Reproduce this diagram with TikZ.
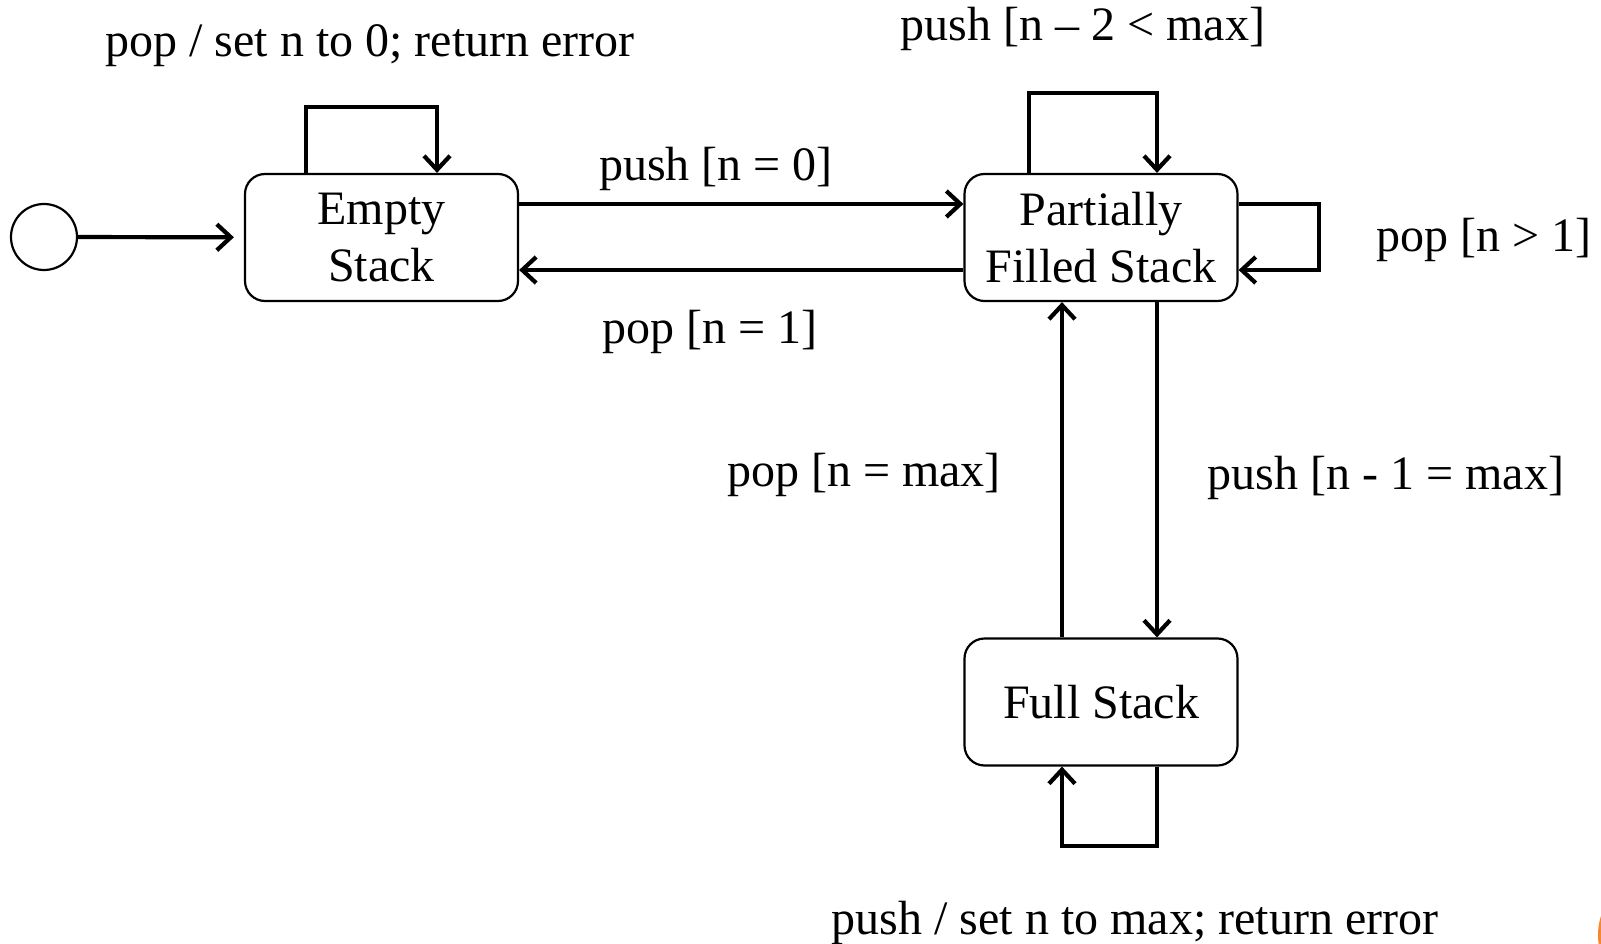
\documentclass[tikz,border=0pt]{standalone}
\usepackage{fontspec}
\setmainfont{Liberation Serif}
\usetikzlibrary{arrows.meta,positioning}
\definecolor{stkOrange}{HTML}{F5872F}
\tikzset{
  statebox/.style={rectangle,draw=black,line width=2.2pt,rounded corners=20pt,
    minimum width=273pt,minimum height=127pt,align=center,inner sep=0pt,
    font=\fontsize{48}{57}\selectfont},
  startdot/.style={circle,draw=black,line width=2.2pt,minimum size=66pt,inner sep=0pt},
  translabel/.style={inner sep=0pt,font=\fontsize{48}{57}\selectfont},
  arrow/.style={-{Straight Barb[length=14pt,width=26pt]},line width=4.2pt}
}
\begin{document}
\begin{tikzpicture}[x=1pt,y=-1pt]
  \useasboundingbox (0,0) rectangle (1601,944);
  % states
  \node[startdot] (init) at (44,237) {};
  \node[statebox] (empty) at (381.5,237.5) {Empty\\Stack};
  \node[statebox] (partial) at (1101,237.5) {Partially\\Filled Stack};
  \node[statebox] (full) at (1101,702) {Full Stack};
  % transitions
  \draw[arrow,shorten >=10pt] (init) -- (empty);
  \draw[arrow] ([yshift=33.5pt]empty.east) -- ([yshift=33.5pt]partial.west);
  \draw[arrow] ([yshift=-32.5pt]partial.west) -- ([yshift=-32.5pt]empty.east);
  \draw[arrow] ([xshift=56pt]partial.south) -- ([xshift=56pt]full.north);
  \draw[arrow] ([xshift=-39pt]full.north) -- ([xshift=-39pt]partial.south);
  % self loops
  \draw[arrow] ([xshift=-75.5pt]empty.north) |- ([yshift=66pt]empty.north) -| ([xshift=55.5pt]empty.north);
  \draw[arrow] ([xshift=-72pt]partial.north) |- ([yshift=80pt]partial.north) -| ([xshift=56pt]partial.north);
  \draw[arrow] ([yshift=33.5pt]partial.east) -| ([xshift=80pt]partial.east) |- ([yshift=-32.5pt]partial.east);
  \draw[arrow] ([xshift=56pt]full.south) |- ([yshift=-79pt]full.south) -| ([xshift=-39pt]full.south);
  % labels
  \node[translabel] (lpoperr) at (370,46) {pop / set n to 0; return error};
  \node[translabel] (lpushloop) at (1083,29) {push [n – 2 < max]};
  \node[translabel] (lpush0) at (716,169) {push [n = 0]};
  \node[translabel] (lpop1) at (710,332) {pop [n = 1]};
  \node[translabel] (lpopgt) at (1484,240) {pop [n > 1]};
  \node[translabel] (lpopmax) at (864,475) {pop [n = max]};
  \node[translabel] (lpushmax) at (1386,478) {push [n - 1 = max]};
  \node[translabel] (lpusherr) at (1135,923) {push / set n to max; return error};
  % corner mark
  \fill[stkOrange] (1660,935) circle (62pt);
\end{tikzpicture}
\end{document}
